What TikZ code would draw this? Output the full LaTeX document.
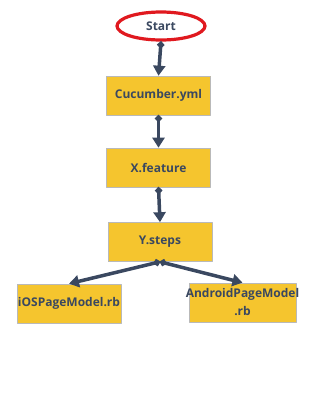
\documentclass[tikz,border=0pt]{standalone}
\usepackage{fontspec}
\setmainfont{Open Sans}
\usetikzlibrary{arrows.meta,shapes.geometric}
\definecolor{boxgold}{HTML}{F5C52E}
\definecolor{slate}{HTML}{3A4860}
\definecolor{startred}{HTML}{E0191F}

\begin{document}
\begin{tikzpicture}[x=1pt, y=-1pt, line join=round, line cap=round,
    label font/.style={font=\fontsize{12}{18}\selectfont\bfseries, text=slate},
    box/.style={draw=gray!55, line width=0.6pt, fill=boxgold, minimum width=104pt,
        minimum height=39pt, inner sep=1pt, align=center, label font},
    flow/.style={draw=slate, line width=3.5pt,
        {Circle[length=6.5pt]}-{Triangle[length=10pt, width=12pt]}}]
    \useasboundingbox (0,0) rectangle (312,400);

    % start and the chain of files
    \node[ellipse, draw=startred, line width=3.2pt, fill=white, minimum width=88pt,
        minimum height=28pt, label font] (start) at (161,26) {Start};
    \node[box] (cuke) at (158.5,95.5) {Cucumber.yml};
    \node[box] (feature) at (158.5,167.5) {X.feature};
    \node[box] (steps) at (160,242) {Y.steps};
    \node[box] (ios) at (69,303.5) {iOSPageModel.rb};
    \node[box, minimum width=107pt] (android) at (242.5,302.5)
        {\makebox[0pt]{AndroidPageModel}\\.rb};

    \coordinate (split) at (steps.south);

    \draw[flow] (start.south) -- (cuke.north);
    \draw[flow] (cuke.south) -- (feature.north);
    \draw[flow] (feature.south) -- (steps.north);
    \draw[flow] (split) -- (ios.north);
    \draw[flow] (split) -- (android.north);
\end{tikzpicture}
\end{document}
